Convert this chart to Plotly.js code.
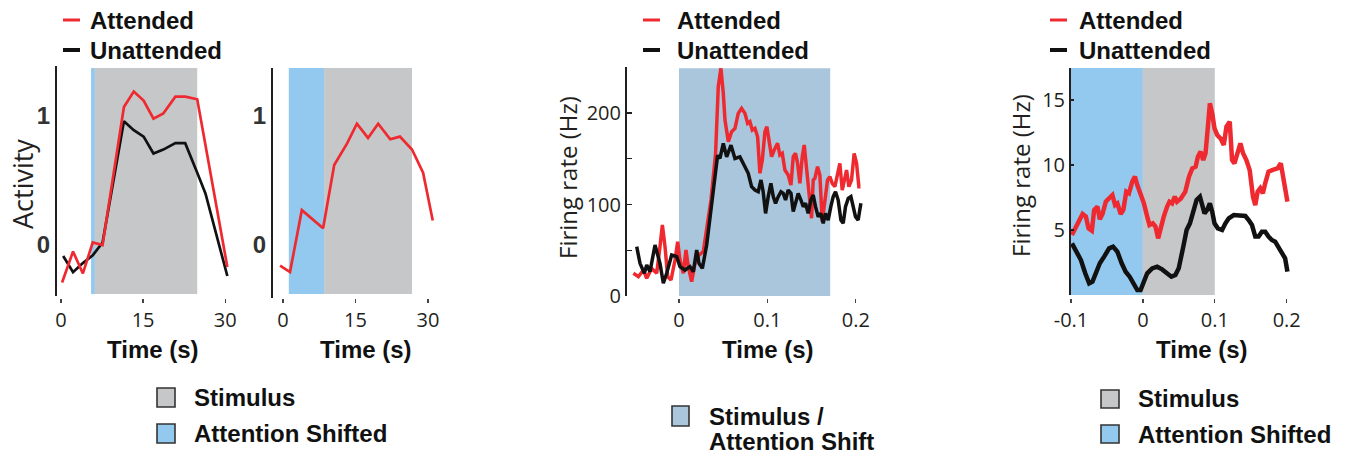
<!DOCTYPE html>
<html>
<head>
<meta charset="utf-8">
<script src="https://cdn.plot.ly/plotly-3.0.1.min.js"></script>
<style>html,body{margin:0;padding:0;background:#fff;}#chart{width:1353px;height:457px;}</style>
</head>
<body>
<div id="chart"></div>
<script>
// ---------------- DATA ----------------
// Panel 1 (model, attention shifted early)
const p1Time       = [0.2, 2.2, 4.0, 5.8, 7.6, 11.5, 13.3, 15.1, 16.9, 18.7, 20.9, 22.7, 24.9, 30.4];
const p1Attended   = [-0.29, -0.05, -0.22, 0.02, 0.00, 1.07, 1.19, 1.12, 0.98, 1.02, 1.15, 1.15, 1.13, -0.17];
const p1TimeU      = [0.4, 2.2, 4.0, 5.8, 7.6, 11.5, 13.3, 15.1, 16.9, 18.7, 20.9, 22.7, 24.9, 26.4, 30.4];
const p1Unattended = [-0.085, -0.21, -0.14, -0.08, 0.02, 0.96, 0.89, 0.84, 0.71, 0.74, 0.79, 0.79, 0.56, 0.40, -0.24];
const p1Shift      = [5.5, 6.2];
const p1Stimulus   = [6.2, 24.9];

// Panel 2 (model, attention shifted before stimulus)
const p2Time     = [-0.6, 1.45, 3.9, 8.3, 10.6, 13.3, 15.3, 17.6, 19.7, 22.2, 24.2, 26.7, 29.0, 31.0];
const p2Attended = [-0.16, -0.21, 0.27, 0.13, 0.62, 0.79, 0.94, 0.83, 0.94, 0.82, 0.84, 0.74, 0.56, 0.19];
const p2Shift    = [1.2, 8.5];
const p2Stimulus = [8.5, 26.7];

const activityTicks = [0, 1];
const timeTicksS    = [0, 15, 30];

// Panel 3 (firing rate, stimulus = attention shift)
const p3TimeA = [-0.0516,-0.0459,-0.0403,-0.0365,-0.0309,-0.0252,-0.0215,-0.0188,-0.0158,-0.0128,-0.0090,-0.0045,-0.0015,0.0011,0.0049,0.0079,0.0105,0.0143,0.0181,0.0226,0.0275,0.0324,0.0362,0.0388,0.0414,0.0444,0.0474,0.0501,0.0520,0.0558,0.0595,0.0633,0.0670,0.0708,0.0746,0.0776,0.0802,0.0829,0.0859,0.0889,0.0915,0.0942,0.0972,0.0994,0.1017,0.1047,0.1077,0.1115,0.1141,0.1168,0.1198,0.1235,0.1266,0.1292,0.1318,0.1341,0.1367,0.1394,0.1416,0.1443,0.1469,0.1499,0.1518,0.1537,0.1567,0.1593,0.1620,0.1650,0.1680,0.1706,0.1733,0.1763,0.1793,0.1819,0.1846,0.1876,0.1895,0.1921,0.1951,0.1981,0.2008,0.2034,0.2053];
const p3Attended = [24.8,21.1,28.4,19.3,30.2,24.8,53.9,77.6,53.9,21.1,17.5,39.3,59.4,39.3,24.8,50.3,32.1,15.7,35.7,44.8,48.5,77.6,104.9,130.4,155.9,228.8,248.8,221.5,192.3,168.7,179.6,183.2,199.6,205.1,199.6,188.7,190.5,181.4,183.2,174.1,134.1,148.6,179.6,185.1,170.5,152.3,159.6,166.9,154.1,155.9,137.7,132.2,121.3,152.3,155.9,145.0,123.1,152.3,165.1,137.7,115.8,85.0,126.8,128.6,141.3,132.2,81.3,104.9,126.8,130.4,123.1,119.5,134.1,145.0,115.8,132.2,137.7,119.5,126.8,155.9,145.0,119.5,119.5];
const p3TimeU = [-0.0478,-0.0441,-0.0392,-0.0365,-0.0328,-0.0271,-0.0215,-0.0177,-0.0139,-0.0083,-0.0026,0.0011,0.0068,0.0124,0.0162,0.0200,0.0226,0.0264,0.0313,0.0362,0.0399,0.0437,0.0463,0.0501,0.0539,0.0588,0.0633,0.0689,0.0727,0.0746,0.0783,0.0821,0.0859,0.0896,0.0927,0.0952,0.0979,0.1009,0.1039,0.1066,0.1092,0.1122,0.1153,0.1179,0.1205,0.1235,0.1266,0.1292,0.1318,0.1348,0.1379,0.1405,0.1431,0.1461,0.1491,0.1518,0.1544,0.1574,0.1604,0.1631,0.1657,0.1687,0.1717,0.1744,0.1770,0.1800,0.1831,0.1857,0.1883,0.1914,0.1944,0.1970,0.1996,0.2026,0.2057];
const p3Unattended = [53.9,35.7,24.8,33.9,26.6,55.7,35.7,13.9,24.8,44.8,43.0,32.1,28.4,32.1,26.6,50.3,35.7,30.2,55.7,93.9,126.6,154.0,150.3,166.7,152.1,164.8,150.3,152.1,144.8,141.0,134.1,119.5,115.8,114.0,126.8,114.0,90.3,108.6,123.1,108.6,101.3,108.6,114.0,112.2,104.9,115.8,112.2,92.2,101.3,112.2,104.9,97.6,101.3,90.3,104.9,110.4,97.6,86.7,90.3,79.4,90.3,83.0,97.6,108.6,114.0,104.9,83.0,79.4,97.6,106.7,108.6,97.6,86.7,83.0,101.3];
const p3StimShift = [0, 0.171];
const rateTicks3 = [0, 50, 100, 150, 200, 250];
const rateText3  = ['0', '', '100', '', '200', ''];
const timeTicks3 = [0, 0.1, 0.2];

// Panel 4 (firing rate, attention shifted before stimulus)
const p4TimeA = [-0.0987,-0.0931,-0.0885,-0.0839,-0.0793,-0.0756,-0.0710,-0.0678,-0.0632,-0.0599,-0.0562,-0.0516,-0.0470,-0.0424,-0.0387,-0.0355,-0.0309,-0.0272,-0.0231,-0.0194,-0.0148,-0.0111,-0.0078,-0.0032,0.0014,0.0060,0.0092,0.0138,0.0175,0.0212,0.0244,0.0290,0.0336,0.0369,0.0406,0.0443,0.0475,0.0526,0.0590,0.0641,0.0687,0.0733,0.0765,0.0802,0.0839,0.0871,0.0904,0.0931,0.0964,0.0996,0.1033,0.1079,0.1125,0.1162,0.1208,0.1240,0.1273,0.1310,0.1356,0.1393,0.1439,0.1485,0.1531,0.1563,0.1596,0.1632,0.1669,0.1701,0.1747,0.1807,0.1872,0.1918,0.1955,0.2010];
const p4Attended = [4.62,5.26,5.90,6.23,6.03,5.13,4.95,6.54,6.79,5.82,6.23,7.18,7.44,7.69,6.92,7.05,6.23,6.54,7.95,7.82,8.72,9.10,8.46,7.82,7.05,6.03,5.38,5.51,5.26,4.36,5.13,6.03,6.79,7.18,7.05,7.56,7.18,7.40,7.95,9.10,9.74,9.87,10.64,11.03,10.38,10.90,12.95,14.74,13.97,12.82,12.31,12.05,11.54,12.95,13.33,10.38,10.13,10.90,11.67,10.90,10.38,9.62,7.56,6.92,7.95,8.21,7.82,8.59,9.49,9.62,9.74,10.13,8.85,7.18];
const p4TimeU = [-0.0987,-0.0931,-0.0862,-0.0802,-0.0747,-0.0701,-0.0655,-0.0599,-0.0539,-0.0470,-0.0415,-0.0355,-0.0295,-0.0240,-0.0184,-0.0124,-0.0078,-0.0032,0.0014,0.0060,0.0129,0.0198,0.0267,0.0336,0.0396,0.0452,0.0498,0.0562,0.0608,0.0654,0.0701,0.0747,0.0793,0.0825,0.0857,0.0894,0.0931,0.0964,0.0996,0.1042,0.1102,0.1148,0.1194,0.1263,0.1356,0.1425,0.1471,0.1517,0.1563,0.1609,0.1655,0.1701,0.1747,0.1793,0.1840,0.1886,0.1932,0.1978,0.2010];
const p4Unattended = [3.97,3.46,2.69,1.67,0.90,1.03,1.67,2.44,2.95,3.59,3.72,3.33,2.44,1.79,1.41,0.90,0.38,0.38,1.15,1.67,2.05,2.18,1.97,1.67,1.41,1.54,2.05,3.72,5.00,5.51,6.54,7.31,7.56,6.79,6.28,6.54,7.05,6.41,5.51,5.13,5.00,5.51,5.90,6.15,6.15,6.08,5.77,5.38,4.49,4.49,4.87,4.87,4.49,4.23,4.10,3.72,3.33,2.82,1.79];
const p4Shift    = [-0.1, 0];
const p4Stimulus = [0, 0.1];
const rateTicks4 = [5, 10, 15];
const timeTicks4 = [-0.1, 0, 0.1, 0.2];
const timeText4  = ['-0.1', '0', '0.1', '0.2'];

// ---------------- STYLE ----------------
const W = 1353, H = 457;
const px = v => v / W;
const py = v => 1 - v / H;
const RED = '#ee2a30', BLACK = '#111111';
const GRAY = '#c6c7c9', BLUE = '#93c9ee', STEEL = '#a9c6dc';
const AXC = '#231f20';
const thin = {family: 'Open Sans, sans-serif', size: 20, color: '#231f20'};
const boldTick = {family: 'Liberation Sans, Arial, sans-serif', size: 24, color: '#333', weight: 'bold'};
const boldTxt = {family: 'Liberation Sans, Arial, sans-serif', size: 24, color: '#111', weight: 'bold'};

function xa(domPx, range, tickvals, ticktext, posPx) {
  return {domain: [px(domPx[0]), px(domPx[1])], range: range, tickvals: tickvals, ticktext: ticktext,
    ticks: 'outside', ticklen: 4, tickwidth: 1.3, tickcolor: '#444', tickfont: thin,
    showline: false, showgrid: false, zeroline: false, anchor: 'free', position: py(posPx), fixedrange: true};
}
function ya(domPx, range, tickvals, ticktext, font, ticks, xanchor) {
  return {domain: [py(domPx[1]), py(domPx[0])], range: range, tickvals: tickvals, ticktext: ticktext,
    ticks: ticks, ticklen: 5, tickwidth: 1.3, tickcolor: AXC, tickfont: font,
    showline: true, linecolor: AXC, linewidth: 2, showgrid: false, zeroline: false, anchor: xanchor, fixedrange: true};
}

const layout = {
  width: W, height: H, margin: {l: 0, r: 0, t: 0, b: 0},
  paper_bgcolor: '#fff', plot_bgcolor: 'rgba(0,0,0,0)', showlegend: false,
  xaxis:  xa([57, 235], [-0.73, 31.8], timeTicksS, timeTicksS.map(String), 298),
  yaxis:  ya([66, 296], [-0.395, 1.388], activityTicks, activityTicks.map(String), boldTick, '', 'x'),
  xaxis2: xa([273, 440], [-2.07, 32.5], timeTicksS, timeTicksS.map(String), 298),
  yaxis2: ya([68, 298], [-0.411, 1.372], activityTicks, activityTicks.map(String), boldTick, '', 'x2'),
  xaxis3: xa([627, 870], [-0.0588, 0.216], timeTicks3, timeTicks3.map(String), 298),
  yaxis3: ya([67, 296], [0, 250.3], rateTicks3, rateText3, thin, 'inside', 'x3'),
  xaxis4: xa([1071, 1300], [-0.1, 0.2185], timeTicks4, timeText4, 298),
  yaxis4: ya([68, 295], [0, 17.46], rateTicks4, rateTicks4.map(String), thin, 'inside', 'x4'),
  shapes: [], annotations: []
};
layout.yaxis4.ticklen = 3;

function band(xr, yr, xref, yref, color) {
  layout.shapes.push({type: 'rect', xref: xref, yref: yref, x0: xr[0], x1: xr[1], y0: yr[0], y1: yr[1],
    fillcolor: color, line: {width: 0}, layer: 'below'});
}
band(p1Shift, [-0.38, 1.372], 'x', 'y', BLUE);
band(p1Stimulus, [-0.38, 1.372], 'x', 'y', GRAY);
band(p2Shift, [-0.38, 1.372], 'x2', 'y2', BLUE);
band(p2Stimulus, [-0.38, 1.372], 'x2', 'y2', GRAY);
band(p3StimShift, [0, 249], 'x3', 'y3', STEEL);
band(p4Shift, [0, 17.46], 'x4', 'y4', BLUE);
band(p4Stimulus, [0, 17.46], 'x4', 'y4', GRAY);

function text(x, y, t, font, opts) {
  layout.annotations.push(Object.assign({xref: 'paper', yref: 'paper', x: px(x), y: py(y), text: t,
    showarrow: false, font: font, xanchor: 'left', yanchor: 'middle'}, opts || {}));
}
function dash(x0, x1, y, color, w) {
  layout.shapes.push({type: 'line', xref: 'paper', yref: 'paper', x0: px(x0), x1: px(x1), y0: py(y), y1: py(y),
    line: {color: color, width: w}});
}
function box(x0, y0, x1, y1, color) {
  layout.shapes.push({type: 'rect', xref: 'paper', yref: 'paper', x0: px(x0), x1: px(x1), y0: py(y1), y1: py(y0),
    fillcolor: color, line: {color: '#333', width: 1.6}});
}

// top legends
[[63, 88], [643, 675], [1050, 1077]].forEach(([dx, tx]) => {
  dash(dx, dx + 17, 20, RED, 3);
  dash(dx, dx + 17, 50, BLACK, 4);
  text(tx, 20, 'Attended', boldTxt);
  text(tx, 50, 'Unattended', boldTxt);
});

// axis titles
const ytitleA = {family: 'Open Sans, sans-serif', size: 27, color: '#231f20'};
const ytitleF = {family: 'Open Sans, sans-serif', size: 24, color: '#231f20'};
text(22, 184, 'Activity', ytitleA, {xanchor: 'center', textangle: -90});
text(567, 178, 'Firing rate (Hz)', ytitleF, {xanchor: 'center', textangle: -90});
text(1021, 176, 'Firing rate (Hz)', ytitleF, {xanchor: 'center', textangle: -90});
[153, 366, 768, 1202].forEach(cx => text(cx, 349, 'Time (s)', boldTxt, {xanchor: 'center'}));

// bottom legends
box(157, 388, 175, 407, GRAY); text(192, 397, 'Stimulus', boldTxt);
box(157, 424, 175, 443, BLUE); text(192, 433, 'Attention Shifted', boldTxt);
box(672, 406, 689, 426, STEEL); text(707, 416, 'Stimulus /', boldTxt); text(707, 441, 'Attention Shift', boldTxt);
box(1101, 390, 1119, 408, GRAY); text(1136, 398, 'Stimulus', boldTxt);
box(1101, 425, 1119, 443, BLUE); text(1136, 434, 'Attention Shifted', boldTxt);

function line(x, y, xa_, ya_, color, w) {
  return {x: x, y: y, xaxis: xa_, yaxis: ya_, type: 'scatter', mode: 'lines',
    line: {color: color, width: w, shape: 'linear'}, hoverinfo: 'skip', cliponaxis: false};
}
const data = [
  line(p1TimeU, p1Unattended, 'x', 'y', BLACK, 2.7),
  line(p1Time, p1Attended, 'x', 'y', RED, 2.7),
  line(p2Time, p2Attended, 'x2', 'y2', RED, 2.7),
  line(p3TimeA, p3Attended, 'x3', 'y3', RED, 3.5),
  line(p3TimeU, p3Unattended, 'x3', 'y3', BLACK, 3.5),
  line(p4TimeA, p4Attended, 'x4', 'y4', RED, 4.5),
  line(p4TimeU, p4Unattended, 'x4', 'y4', BLACK, 4.5)
];

Plotly.newPlot('chart', data, layout, {staticPlot: true, displayModeBar: false});
</script>
</body>
</html>
